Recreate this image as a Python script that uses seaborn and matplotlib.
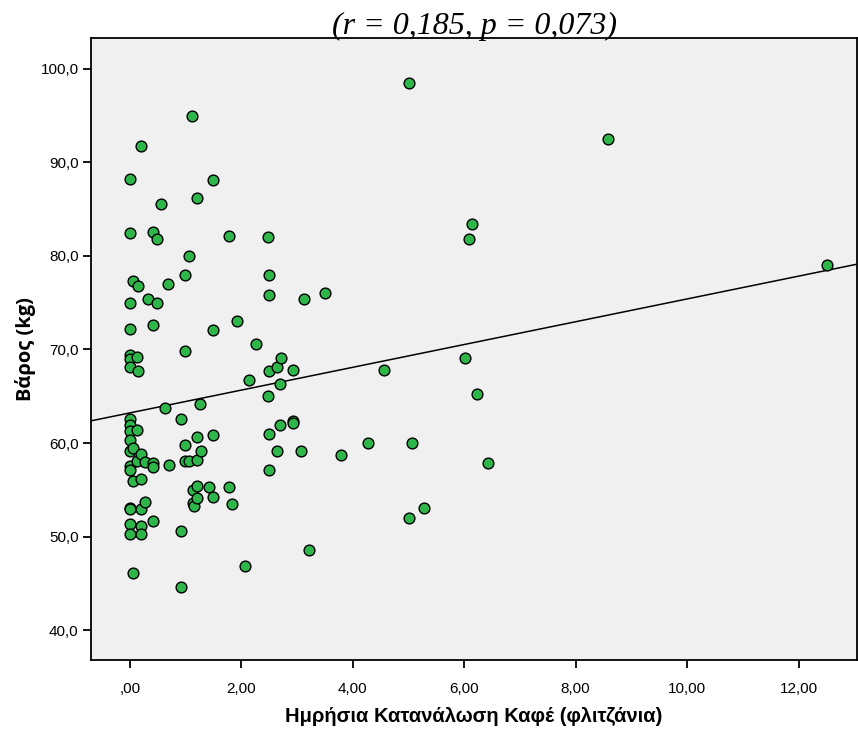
import numpy as np
import pandas as pd
import seaborn as sns
import matplotlib
matplotlib.use("Agg")
import matplotlib.pyplot as plt

# Daily coffee consumption (cups)
coffee = [
    0, 0, 0, 0, 0, 0, 0, 0, 0, 0, 0, 0, 0, 0, 0, 0, 0, 0,
    0.05, 0.06, 0.06, 0.06,
    0.14, 0.12, 0.14, 0.12, 0.13,
    0.20, 0.20, 0.20, 0.20, 0.20, 0.20,
    0.27, 0.27,
    0.33,
    0.42, 0.42, 0.42, 0.42, 0.42,
    0.49, 0.49,
    0.56,
    0.63,
    0.69, 0.70,
    0.91, 0.91, 0.91,
    0.99, 0.99, 0.99, 0.99,
    1.06, 1.06,
    1.12,
    1.13, 1.13,
    1.14,
    1.20, 1.20, 1.20, 1.20, 1.21,
    1.25, 1.27,
    1.42,
    1.49, 1.49, 1.49, 1.49,
    1.77, 1.78,
    1.83,
    1.92,
    2.06,
    2.14,
    2.27,
    2.48, 2.50, 2.50, 2.50, 2.48, 2.50, 2.50,
    2.64, 2.63,
    2.71, 2.69, 2.70,
    2.93, 2.92, 2.93,
    3.07,
    3.12,
    3.21,
    3.50,
    3.78,
    4.27,
    4.56,
    5.01, 5.01,
    5.07,
    5.27,
    6.01, 6.08, 6.14, 6.22, 6.43,
    8.58,
    12.52,
]

# Body weight (kg)
weight = [
    88.2, 82.5, 75.0, 72.2, 69.4, 69.0, 68.1, 62.6, 61.9, 61.3, 60.3, 59.1, 57.5, 57.1, 53.1, 52.9, 51.3, 50.3,
    77.3, 59.5, 55.9, 46.1,
    76.8, 69.2, 67.7, 61.4, 58.1,
    91.7, 58.8, 56.2, 52.9, 51.1, 50.3,
    58.0, 53.7,
    75.4,
    82.6, 72.6, 57.9, 57.4, 51.7,
    81.8, 75.0,
    85.5,
    63.7,
    77.0, 57.6,
    62.6, 50.6, 44.6,
    78.0, 69.8, 59.8, 58.1,
    80.0, 58.1,
    95.0,
    55.0, 53.6,
    53.3,
    86.2, 60.6, 58.2, 55.4, 54.1,
    64.2, 59.1,
    55.3,
    88.1, 72.1, 60.9, 54.2,
    82.1, 55.3,
    53.5,
    73.0,
    46.9,
    66.7,
    70.6,
    82.0, 78.0, 75.8, 67.7, 65.0, 61.0, 57.1,
    68.1, 59.1,
    69.1, 66.3, 61.9,
    67.8, 62.4, 62.1,
    59.1,
    75.4,
    48.6,
    76.0,
    58.7,
    60.0,
    67.8,
    98.5, 52.0,
    60.0,
    53.0,
    69.1, 81.8, 83.4, 65.2, 57.9,
    92.5,
    79.0,
]

x_ticks = [0, 2, 4, 6, 8, 10, 12]
x_tick_labels = [",00", "2,00", "4,00", "6,00", "8,00", "10,00", "12,00"]
y_ticks = [40, 50, 60, 70, 80, 90, 100]
y_tick_labels = ["40,0", "50,0", "60,0", "70,0", "80,0", "90,0", "100,0"]

title_text = "(r = 0,185, p = 0,073)"
x_label = "Ημρήσια Κατανάλωση Καφέ (φλιτζάνια)"
y_label = "Βάρος (kg)"

df = pd.DataFrame({"coffee": coffee, "weight": weight})

sns.set_style("white")
plt.rcParams["font.family"] = ["Liberation Sans", "DejaVu Sans"]
plt.rcParams["text.color"] = "black"
plt.rcParams["axes.labelcolor"] = "black"
plt.rcParams["xtick.color"] = "black"
plt.rcParams["ytick.color"] = "black"

fig = plt.figure(figsize=(8.58, 7.31), dpi=100)
ax = fig.add_axes([91 / 858, 1 - 660 / 731, (857 - 91) / 858, (660 - 38) / 731])
ax.set_facecolor("#f0f0f0")

ax.set_xlim(-0.70, 13.05)
ax.set_ylim(36.8, 103.3)

sns.regplot(
    data=df, x="coffee", y="weight", ax=ax, ci=None, truncate=False,
    scatter_kws=dict(s=60, color="#2fb64a", edgecolor="black", linewidths=1.0, alpha=1, zorder=3),
    line_kws=dict(color="black", linewidth=1.1, zorder=2),
)
ax.set_xlim(-0.70, 13.05)
ax.set_ylim(36.8, 103.3)

ax.set_xticks(x_ticks)
ax.set_xticklabels(x_tick_labels)
ax.set_yticks(y_ticks)
ax.set_yticklabels(y_tick_labels)
ax.tick_params(axis="both", direction="out", length=6, width=1.3, colors="black",
               labelcolor="black", labelsize=11, bottom=True, left=True, pad=3)
ax.tick_params(axis="x", pad=10)

for side in ["left", "bottom", "top", "right"]:
    ax.spines[side].set_visible(True)
    ax.spines[side].set_color("black")
    ax.spines[side].set_linewidth(1.3)

ax.set_xlabel(x_label, fontsize=14.5, fontweight="bold", labelpad=8, color="black")
ax.set_ylabel(y_label, fontsize=14.5, fontweight="bold", labelpad=3, color="black",
              family=["Open Sans", "DejaVu Sans"])
ax.set_title(title_text, fontsize=23, style="italic", color="black",
             family=["Liberation Serif", "DejaVu Serif"], pad=3)

fig.savefig("out.png", dpi=100)
